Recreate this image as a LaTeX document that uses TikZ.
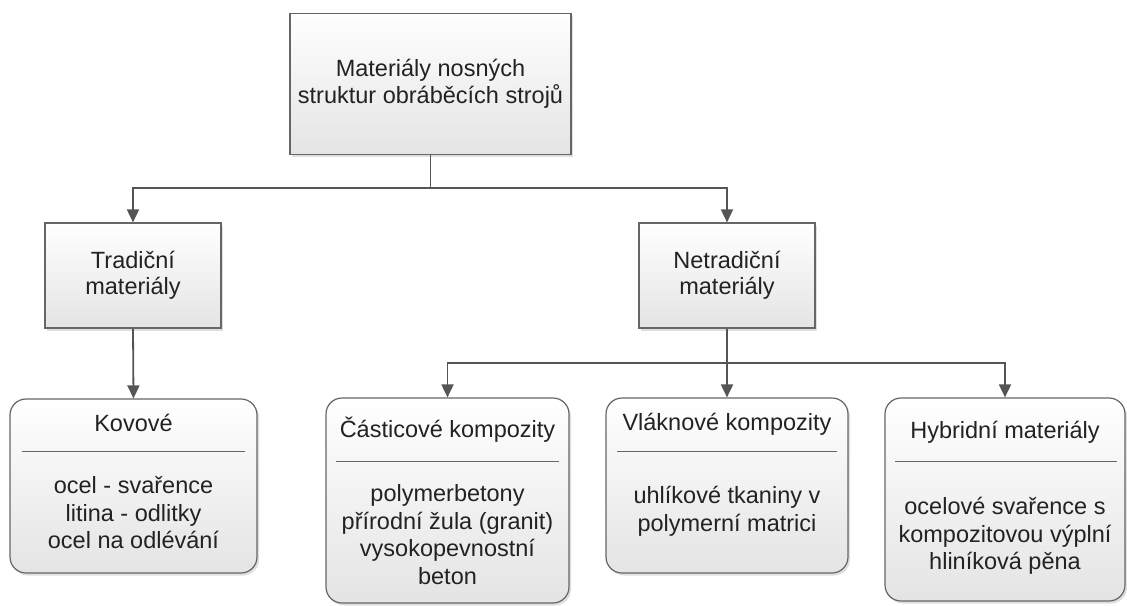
\documentclass[tikz,border=0pt]{standalone}
\usepackage{fontspec}
\setmainfont{Liberation Sans}
\usetikzlibrary{arrows.meta,shadows}
\definecolor{linegray}{HTML}{555555}
\definecolor{edgegray}{HTML}{666666}
\definecolor{boxbottom}{HTML}{E4E4E4}
\definecolor{textcol}{HTML}{222222}
\tikzset{
  box/.style={draw=edgegray, line width=1.2pt, top color=white, bottom color=boxbottom,
    drop shadow={shadow xshift=2pt, shadow yshift=-2.5pt, opacity=.25, fill=gray},
    inner sep=0pt},
  sqbox/.style={box, align=center, font=\fontsize{23.5}{26.5}\selectfont, text=textcol},
  rbox/.style={box, rounded corners=16pt},
  boxtitle/.style={font=\fontsize{23.5}{26.5}\selectfont, text=textcol, inner sep=0pt},
  boxbody/.style={align=center, font=\fontsize{23.5}{27.5}\selectfont, text=textcol, inner sep=0pt},
  sepline/.style={draw=edgegray, line width=1pt},
  link/.style={draw=linegray, line width=1.8pt, -{Triangle[length=13pt,width=12pt]}}
}
\begin{document}
\begin{tikzpicture}[x=1pt,y=-1pt]
\useasboundingbox (0,0) rectangle (1127,605);
\clip (0,0) rectangle (1127,605);
\fill[white] (0,0) rectangle (1127,605);

% upper levels
\node[sqbox, minimum width=281pt, minimum height=141pt] (top) at (430.5,84)
  {Materiály nosných\\struktur obráběcích strojů};
\node[sqbox, minimum width=176pt, minimum height=105pt] (trad) at (133,275.5)
  {Tradiční\\materiály};
\node[sqbox, minimum width=176pt, minimum height=105pt] (netrad) at (727,275.5)
  {Netradiční\\materiály};

% material groups
\node[rbox, minimum width=247pt, minimum height=174pt] (kov) at (133.5,486) {};
\node[boxtitle] (kovT) at (133.5,423) {Kovové};
\draw[sepline] (22,451) -- (245,451);
\node[boxbody] (kovB) at (133.5,513) {ocel - svařence\\litina - odlitky\\ocel na odlévání};

\node[rbox, minimum width=243pt, minimum height=205pt] (cas) at (447.5,500.5) {};
\node[boxtitle] (casT) at (447.5,430) {Částicové kompozity};
\draw[sepline] (336,461) -- (559,461);
\node[boxbody] (casB) at (447.5,534.5) {polymerbetony\\přírodní žula (granit)\\vysokopevnostní\\beton};

\node[rbox, minimum width=242pt, minimum height=175pt] (vla) at (727,485.5) {};
\node[boxtitle] (vlaT) at (727,424) {Vláknové kompozity};
\draw[sepline] (617,451) -- (837,451);
\node[boxbody] (vlaB) at (727,511.5) {uhlíkové tkaniny v\\polymerní matrici};

\node[rbox, minimum width=240pt, minimum height=203pt] (hyb) at (1005,499.5) {};
\node[boxtitle] (hybT) at (1005,432) {Hybridní materiály};
\draw[sepline] (895,461) -- (1117,461);
\node[boxbody] (hybB) at (1005,536) {ocelové svařence s\\kompozitovou výplní\\hliníková pěna};

% connectors
\coordinate (bus1) at (430.5,188);
\coordinate (bus2) at (727,363);
\draw[link] (top.south) -- (bus1) -| (trad.north);
\draw[link] (top.south) -- (bus1) -| (netrad.north);
\draw[link] (trad.south) -- (kov.north);
\draw[link] (netrad.south) -- (vla.north);
\draw[link] (netrad.south) -- (bus2) -| (cas.north);
\draw[link] (netrad.south) -- (bus2) -| (hyb.north);
\end{tikzpicture}
\end{document}
